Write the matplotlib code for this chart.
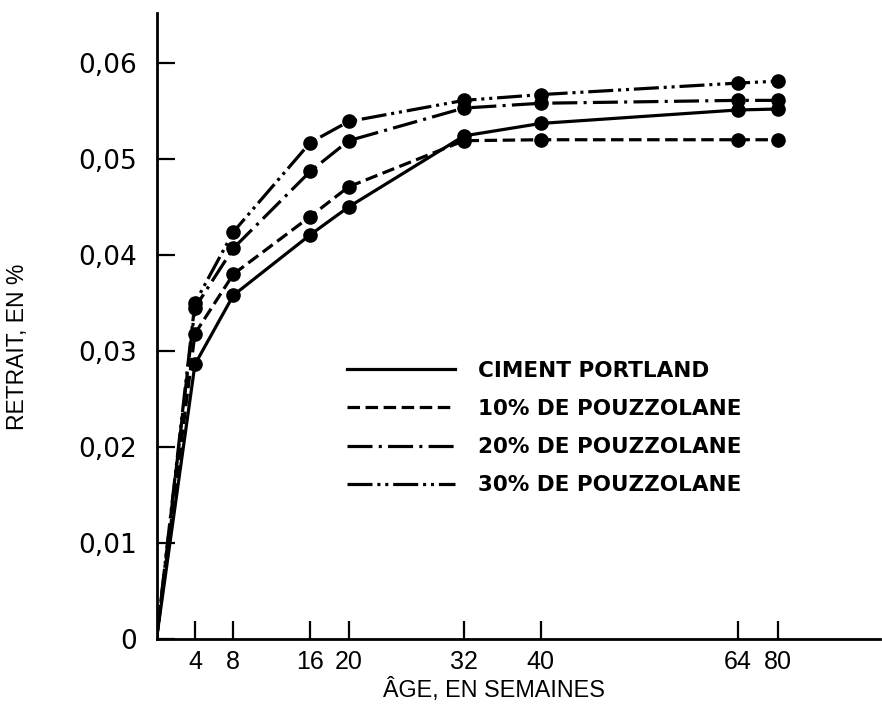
import numpy as np
import matplotlib
matplotlib.use("Agg")
import matplotlib.pyplot as plt
from matplotlib.lines import Line2D

# ---- data ----
weeks = [0, 4, 8, 16, 20, 32, 40, 64, 80]
portland = [0, 0.0286, 0.0358, 0.0421, 0.0450, 0.0524, 0.0537, 0.0551, 0.0552]
pouz10 = [0, 0.0318, 0.0380, 0.0440, 0.0471, 0.0519, 0.0520, 0.0520, 0.0520]
pouz20 = [0, 0.0345, 0.0407, 0.0487, 0.0519, 0.0553, 0.0558, 0.0561, 0.0561]
pouz30 = [0, 0.0350, 0.0424, 0.0517, 0.0539, 0.0561, 0.0567, 0.0579, 0.0581]
labels = ["CIMENT PORTLAND", "10% DE POUZZOLANE",
          "20% DE POUZZOLANE", "30% DE POUZZOLANE"]
xticks = [4, 8, 16, 20, 32, 40, 64, 80]
yticks = [0, 0.01, 0.02, 0.03, 0.04, 0.05, 0.06]
yticklabels = ["0", "0,01", "0,02", "0,03", "0,04", "0,05", "0,06"]

# piecewise-linear axis of the original (linear to 40 weeks, compressed after)
knots_w = [0, 40, 64, 80, 120]
knots_p = [0, 40, 60.5, 64.7, 75.3]

plt.rcParams['lines.scale_dashes'] = False

fig = plt.figure(figsize=(8.82, 7.13), dpi=100)
ax = fig.add_axes([156.5 / 882, 74 / 713, (880 - 156.5) / 882, (639 - 13) / 713])

ax.set_xscale('function', functions=(lambda w: np.interp(w, knots_w, knots_p),
                                     lambda p: np.interp(p, knots_p, knots_w)))

styles = [
    dict(linestyle='-'),
    dict(dashes=(9, 4)),
    dict(dashes=(18, 4.5, 2.2, 4.5)),
    dict(dashes=(18, 3.5, 2.2, 3.5, 2.2, 3.5)),
]
series = [portland, pouz10, pouz20, pouz30]
handles = []
for vals, st, lab in zip(series, styles, labels):
    ax.plot(weeks, vals, color='black', lw=2.3, marker='o', markersize=9.5,
            markevery=list(range(1, len(weeks))), solid_capstyle='butt',
            dash_capstyle='butt', **st)
    handles.append(Line2D([], [], color='black', lw=2.3, **st))

ax.set_xlim(0, 120)
ax.set_ylim(0, 0.0652)

for s in ['top', 'right']:
    ax.spines[s].set_visible(False)
for s in ['left', 'bottom']:
    ax.spines[s].set_linewidth(2.0)

ax.set_xticks(xticks)
ax.set_xticklabels([str(t) for t in xticks])
ax.set_yticks(yticks)
ax.set_yticklabels(yticklabels)
ax.tick_params(axis='both', direction='in', length=13, width=1.6)
ax.tick_params(axis='x', pad=8, labelsize=18)
ax.tick_params(axis='y', pad=14, labelsize=19)
for t in ax.get_xticklabels():
    t.set_fontfamily('Liberation Sans')
for t in ax.get_yticklabels():
    t.set_fontfamily('DejaVu Sans')

leg = ax.legend(handles, labels, loc='center left',
                bbox_to_anchor=((347 - 156.5) / (880 - 156.5), (639 - 428) / (639 - 13)),
                frameon=False, handlelength=5.0, handletextpad=1.1,
                labelspacing=0.85, borderpad=0, borderaxespad=0,
                prop=dict(family='DejaVu Sans', weight='bold', size=15.5))

fig.text(494 / 882, 1 - 690 / 713, "ÂGE, EN SEMAINES", ha='center', va='center',
         fontsize=16.8, family='Liberation Sans')
fig.text(18 / 882, 1 - 347 / 713, "RETRAIT, EN %", ha='center', va='center',
         rotation=90, fontsize=16.5, family='Liberation Sans')

fig.savefig('out.png', dpi=100)
